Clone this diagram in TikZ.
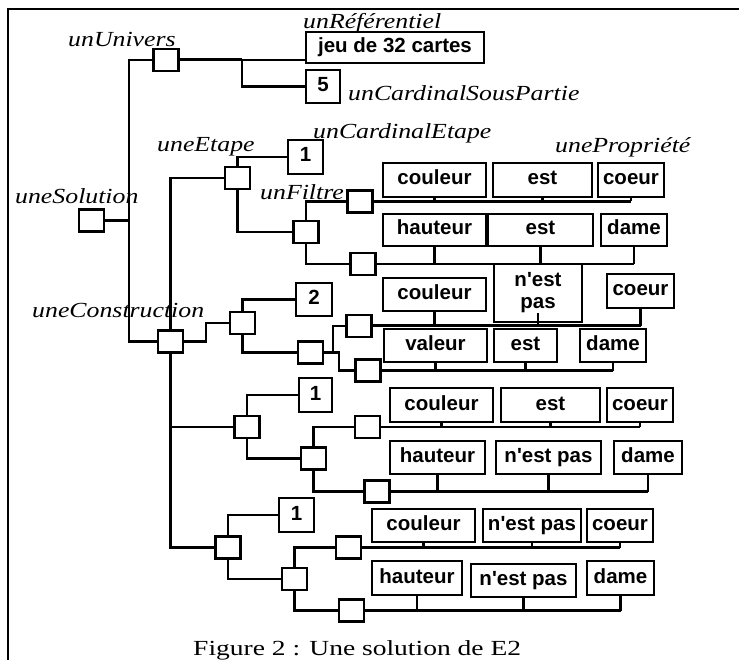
\documentclass[tikz,border=0pt]{standalone}
\usepackage{fontspec}
\newfontfamily\labfam{Liberation Serif}[FakeStretch=1.2]
\newfontfamily\capfam{Liberation Serif}
\newfontfamily\boxfam{Liberation Sans}
\begin{document}
\begin{tikzpicture}[x=1pt,y=-1pt,
  ln/.style={line width=2.2pt},
  lnk/.style={line width=3pt},
  sq/.style={draw, line width=2.2pt, minimum width=25pt, minimum height=22pt, inner sep=0pt},
  bx/.style 2 args={draw, line width=2.2pt, inner sep=0pt, minimum width=#1, minimum height=#2,
     font={\boxfam\bfseries\fontsize{20.5}{22}\selectfont}, text height=14pt, text depth=4pt, align=center},
  lab/.style={font={\labfam\itshape\fontsize{21.5}{24}\selectfont}, inner sep=0pt, anchor=base west},
]
\useasboundingbox (0,0) rectangle (739,660);
\draw[line width=1.2pt] (8,660) -- (8,9) -- (739,9);

% labels
\node[lab] (lU) at (68,47) {unUnivers};
\node[lab] (lR) at (303,29) {unRéférentiel};
\node[lab] (lCSP) at (348,101) {unCardinalSousPartie};
\node[lab] (lE) at (157,152) {uneEtape};
\node[lab] (lCE) at (313,139) {unCardinalEtape};
\node[lab] (lP) at (555,153) {unePropriété};
\node[lab] (lS) at (15,204) {uneSolution};
\node[lab] (lF) at (260,200) {unFiltre};
\node[lab] (lC) at (32,318) {uneConstruction};

% squares
\node[sq] (U) at (166,60) {};
\node[sq] (S) at (91.5,220.5) {};
\node[sq] (C) at (170.5,341.5) {};
\node[sq] (E1) at (237.5,178) {};
\node[sq] (F1) at (306,232) {};
\node[sq] (A1) at (360,201.5) {};
\node[sq] (A2) at (363,264) {};
\node[sq] (E2) at (242.5,323) {};
\node[sq] (F2) at (310.5,352.5) {};
\node[sq] (B1) at (359,326) {};
\node[sq] (B2) at (368,370.5) {};
\node[sq] (E3) at (247,427) {};
\node[sq] (F3) at (313.5,458.5) {};
\node[sq] (C1) at (367.5,427) {};
\node[sq] (C2) at (377,491.5) {};
\node[sq] (E4) at (228,547.5) {};
\node[sq] (F4) at (294.5,579) {};
\node[sq] (D1) at (348.5,547.5) {};
\node[sq] (D2) at (351.5,610.5) {};

% value boxes
\node[bx={178pt}{31pt}] (jeu) at (395,47.5) {jeu de 32 cartes};
\node[bx={34pt}{33pt}] (five) at (323,86.5) {5};
\node[bx={35pt}{34pt}] (n1a) at (305.5,157) {1};
\node[bx={36pt}{33pt}] (n2) at (314,299.5) {2};
\node[bx={33pt}{34pt}] (n1b) at (315.5,395) {1};
\node[bx={35pt}{34pt}] (n1c) at (296.5,515) {1};

% row 1
\node[bx={103pt}{34pt}] (r1a) at (434.5,180) {couleur};
\node[bx={99pt}{34pt}] (r1b) at (542.5,180) {est};
\node[bx={66pt}{34pt}] (r1c) at (631,180) {coeur};
% row 2
\node[bx={103pt}{32pt}] (r2a) at (434.5,230) {hauteur};
\node[bx={105pt}{32pt}] (r2b) at (540.5,230) {est};
\node[bx={66pt}{32pt}] (r2c) at (634,230) {dame};
% row 3
\node[bx={103pt}{33pt}] (r3a) at (434.5,294.5) {couleur};
\node[bx={88pt}{58pt}, text height=, text depth=] (r3b) at (538,293) {n'est\\pas};
\node[bx={67pt}{34pt}] (r3c) at (640.5,291) {coeur};
% row 4
\node[bx={103pt}{33pt}] (r4a) at (435.5,345.5) {valeur};
\node[bx={63pt}{33pt}] (r4b) at (525.5,345.5) {est};
\node[bx={66pt}{33pt}] (r4c) at (613,345.5) {dame};
% row 5
\node[bx={103pt}{34pt}] (r5a) at (441.5,405) {couleur};
\node[bx={99pt}{34pt}] (r5b) at (550.5,405) {est};
\node[bx={66pt}{34pt}] (r5c) at (640,405) {coeur};
% row 6
\node[bx={95pt}{33pt}] (r6a) at (437.5,457.5) {hauteur};
\node[bx={105pt}{33pt}] (r6b) at (548.5,457.5) {n'est pas};
\node[bx={68pt}{33pt}] (r6c) at (648,457.5) {dame};
% row 7
\node[bx={103pt}{33pt}] (r7a) at (423.5,525.5) {couleur};
\node[bx={98pt}{33pt}] (r7b) at (532,525.5) {n'est pas};
\node[bx={66pt}{33pt}] (r7c) at (620,525.5) {coeur};
% row 8
\node[bx={90pt}{34pt}] (r8a) at (417,578) {hauteur};
\node[bx={105pt}{33pt}] (r8b) at (523.5,580.5) {n'est pas};
\node[bx={67pt}{34pt}] (r8c) at (620.5,578) {dame};

% caption
\node[font={\capfam\fontsize{21.5}{24}\selectfont}, inner sep=0pt, anchor=base west] (cap) at (193,655) {\scalebox{1.28}[1]{Figure 2 : Une solution de E2}};

% tree connectors
\coordinate (j0) at (129,341.5);
\draw[ln] (U.west) -| (j0) -- (C.west);
\draw[ln] (S.east) -- (S.east -| j0);
\coordinate (j1) at (242,60);
\draw[lnk] (U.east) -- (j1);
\draw[ln] (j1) -- (j1 -| jeu.west);
\draw[ln] (j1) |- (five.west);

\draw[ln] (E1.west) -| (C.north);
\draw[ln] (C.south) |- (E4.west);
\draw[ln] (C.south |- E3.west) -- (E3.west);
\draw[ln] (C.east) -- ++(22,0) |- (E2.west);

\draw[ln] (E1.north) |- (n1a.west);
\draw[ln] (E1.south) |- (F1.west);
\draw[ln] (F1.north) |- (A1.west);
\draw[ln] (F1.south) |- (A2.west);

\draw[ln] (E2.north) |- (n2.west);
\draw[ln] (E2.south) |- (F2.west);
\draw[ln] (F2.east) -- ++(9,0) |- (B1.west);
\draw[ln] (F2.east) -- ++(15,0) |- (B2.west);

\draw[ln] (E3.north) |- (n1b.west);
\draw[ln] (E3.south) |- (F3.west);
\draw[ln] (F3.north) |- (C1.west);
\draw[ln] (F3.south) |- (C2.west);

\draw[ln] (E4.north) |- (n1c.west);
\draw[ln] (E4.south) |- (F4.west);
\draw[ln] (F4.north) |- (D1.west);
\draw[ln] (F4.south) |- (D2.west);

% property rows
\draw[ln] (A1.east) -- (A1.east -| r1c.south);
\foreach \b in {r1a,r1b,r1c} \draw[ln] (\b.south) -- (\b.south |- A1.east);
\draw[ln] (A2.east) -- (A2.east -| r2c.south);
\foreach \b in {r2a,r2b,r2c} \draw[ln] (\b.south) -- (\b.south |- A2.east);
\draw[lnk] (B1.east) -- (B1.east -| r3c.south);
\draw[ln] (r3a.south) -- (r3a.south |- B1.east);
\draw[ln] ([yshift=10pt]r3b.south) -- (r3b.south |- B1.east);
\draw[ln] (r3c.south) -- (r3c.south |- B1.east);
\draw[ln] (B2.east) -- (B2.east -| r4c.south);
\foreach \b in {r4a,r4b,r4c} \draw[ln] (\b.south) -- (\b.south |- B2.east);
\draw[ln] (C1.east) -- (C1.east -| r5c.south);
\foreach \b in {r5a,r5b,r5c} \draw[ln] (\b.south) -- (\b.south |- C1.east);
\draw[ln] (C2.east) -- (C2.east -| r6c.south);
\foreach \b in {r6a,r6b,r6c} \draw[ln] (\b.south) -- (\b.south |- C2.east);
\draw[ln] (D1.east) -- (D1.east -| r7c.south);
\foreach \b in {r7a,r7b,r7c} \draw[ln] (\b.south) -- (\b.south |- D1.east);
\draw[ln] (D2.east) -- (D2.east -| r8c.south);
\foreach \b in {r8a,r8b,r8c} \draw[ln] (\b.south) -- (\b.south |- D2.east);
\end{tikzpicture}
\end{document}
